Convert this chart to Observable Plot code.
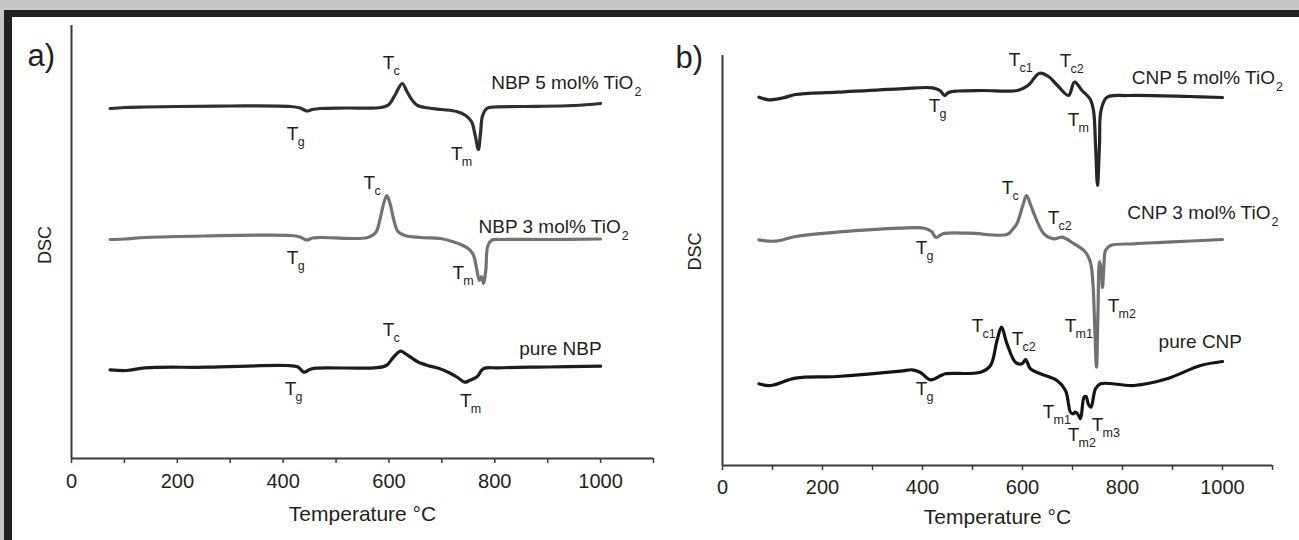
<!DOCTYPE html>
<html>
<head>
<meta charset="utf-8">
<script src="https://cdn.jsdelivr.net/npm/d3@7"></script>
<script src="https://cdn.jsdelivr.net/npm/@observablehq/plot@0.6"></script>
<style>
  html, body { margin: 0; padding: 0; }
  body { width: 1299px; height: 540px; background: #c6c7c9; position: relative; overflow: hidden; font-family: "Liberation Sans", Arial, sans-serif; }
  #frame { position: absolute; left: 4px; top: 10px; width: 1295px; height: 530px; background: #231f20; }
  #paper { position: absolute; left: 12px; top: 17px; width: 1287px; height: 523px; background: #ffffff; }
  .panel { position: absolute; top: 0; }
  #pa { left: 0; }
  #pb { left: 650px; }
</style>
</head>
<body>
<div id="frame"></div>
<div id="paper"></div>
<div id="pa" class="panel"></div>
<div id="pb" class="panel"></div>
<script>
// ---------- data (temperature °C, DSC signal in arbitrary units, curves offset as plotted) ----------
const xTicks = d3.range(0, 1101, 100);
const xLabels = [0, 200, 400, 600, 800, 1000];

// Panel a) NBP glasses
const nbp5 = [[73,34.7],[100,34.8],[140,34.85],[200,34.9],[300,34.95],[414,34.9],[432,34.75],[445,34.45],[455,34.6],[470,34.7],[520,34.75],[585,34.8],[600,35.1],[612,36.1],[625,37.2],[634,36.4],[643,35.6],[654,35.0],[668,34.8],[700,34.6],[728,34.4],[745,34.0],[756,33.4],[763,32.0],[769,30.6],[773,32.2],[777,34.0],[785,34.7],[800,34.85],[850,34.9],[950,35.0],[1000,35.2]];
const nbp3 = [[73,21.6],[100,21.65],[140,21.8],[250,21.95],[414,22.0],[432,21.85],[445,21.55],[455,21.75],[470,21.8],[560,21.8],[575,22.3],[583,23.6],[590,25.2],[596,26.0],[602,25.2],[609,23.6],[617,22.4],[630,22.0],[660,21.8],[697,21.7],[720,21.4],[740,21.0],[752,20.6],[760,20.0],[766,18.6],[771,17.5],[775,17.9],[779,17.2],[783,18.5],[787,21.0],[795,21.55],[810,21.6],[900,21.6],[1000,21.65]];
const nbpPure = [[73,8.57],[104,8.5],[139,8.77],[257,8.83],[406,9.0],[428,8.85],[439,8.33],[450,8.6],[461,8.73],[571,8.77],[595,9.0],[608,9.8],[622,10.43],[632,10.15],[641,9.83],[655,9.35],[673,9.0],[695,8.7],[712,8.33],[730,7.8],[743,7.33],[752,7.5],[767,7.9],[778,8.67],[806,8.77],[900,8.85],[1000,8.93]];

// Panel b) CNP glasses
const cnp5 = [[73,36.73],[92,36.47],[122,36.67],[146,37.0],[229,37.23],[354,37.57],[420,37.67],[435,37.4],[444,36.9],[452,37.2],[470,37.35],[520,37.4],[590,37.4],[611,37.9],[634,39.13],[652,38.8],[670,37.9],[692,36.9],[704,38.23],[719,37.4],[735,36.57],[742,35.4],[746,32.0],[750,27.9],[754,32.0],[757,35.4],[769,36.73],[810,36.9],[934,36.8],[1000,36.7]];
const cnp3 = [[73,22.47],[105,22.33],[146,22.8],[229,23.23],[354,23.63],[404,23.63],[418,23.3],[427,22.7],[441,23.07],[493,23.13],[569,23.0],[580,23.5],[589,24.1],[600,25.8],[608,26.9],[616,26.0],[623,25.07],[643,23.07],[663,22.57],[679,22.73],[703,22.07],[726,21.23],[736,20.2],[741,18.0],[744,14.4],[748,9.73],[751,15.4],[754,20.3],[757,19.6],[760,17.7],[763,20.1],[766,21.4],[776,21.9],[823,22.07],[889,22.23],[1000,22.5]];
const cnpPure = [[73,8.07],[96,7.9],[146,8.63],[229,8.8],[356,9.33],[379,9.47],[395,9.23],[416,8.47],[437,8.9],[446,9.07],[516,9.23],[536,9.9],[549,12.4],[558,13.73],[569,12.07],[586,10.23],[599,10.07],[606,10.5],[616,9.57],[636,9.07],[669,8.4],[686,7.4],[696,5.23],[701,5.07],[706,5.23],[711,5.0],[716,4.57],[723,6.73],[727,6.8],[732,6.0],[737,5.73],[746,7.57],[756,8.07],[823,7.9],[889,8.57],[956,9.9],[1000,10.3]];

// Transition annotations: subscript, temperature, signal
const annA = [["c",599,39.3],["g",418,32.2],["m",728,30.2],["c",563,27.3],["g",418,19.8],["m",731,18.3],["c",599,12.6],["g",414,6.7],["m",745,5.5]];
const annB = [["c1",584,40.5],["c2",686,40.4],["g",424,35.9],["m",702,34.5],["c",570,27.7],["c2",662,24.7],["g",398,21.7],["m2",782,15.9],["m1",696,13.9],["c1",510,13.9],["c2",590,12.6],["g",398,7.6],["m1",652,5.3],["m2",702,3.0],["m3",750,4.0]];

// Series names: text, subscript, temperature at text end, signal
const namesA = [["NBP 5 mol% TiO","2",1062,37.3],["NBP 3 mol% TiO","2",1038,22.9],["pure NBP","",1002,10.7]];
const namesB = [["CNP 5 mol% TiO","2",1105,38.7],["CNP 3 mol% TiO","2",1096,25.2],["pure CNP","",1039,12.3]];

// ---------- drawing ----------
const INK = "#231f20";
const AX = "#3a3a3a";
const FONT = "'Liberation Sans', Arial, Helvetica, sans-serif";

function panel(opts) {
  const ann = opts.ann.map(([s, x, y]) => ({s, x, y}));
  const names = opts.names.map(([t, s, x, y]) => ({t, s, x, y}));
  const lines = opts.series.map(([data, color]) =>
    Plot.line(data, {x: d => d[0], y: d => d[1], stroke: color, strokeWidth: 3.2, curve: "catmull-rom", strokeLinejoin: "round", strokeLinecap: "round"}));
  return Plot.plot({
    width: opts.width,
    height: 540,
    marginLeft: opts.marginLeft,
    marginRight: opts.marginRight,
    marginTop: opts.marginTop,
    marginBottom: opts.marginBottom,
    x: {domain: [0, 1100]},
    y: {domain: opts.yDomain, axis: null},
    style: {background: "transparent", fontFamily: FONT, color: INK, overflow: "visible"},
    marks: [
      Plot.axisX({ticks: xTicks, tickFormat: d => xLabels.includes(d) ? String(d) : "", tickSize: 5, tickPadding: opts.tickPad, fontSize: 20, strokeWidth: 1.5, stroke: AX, fill: INK, label: null}),
      Plot.ruleY([opts.yDomain[0]], {stroke: AX, strokeWidth: 2}),
      Plot.ruleX([0], {stroke: AX, strokeWidth: 2}),
      ...lines,
      Plot.text(ann, {x: "x", y: "y", text: () => "T", fontSize: 19, fill: INK}),
      Plot.text(ann, {x: "x", y: "y", text: "s", fontSize: 12.5, fill: INK, textAnchor: "start", dx: 5, dy: 8}),
      Plot.text(names, {x: "x", y: "y", text: "t", fontSize: 19, fill: INK, textAnchor: "end"}),
      Plot.text(names, {x: "x", y: "y", text: "s", fontSize: 12.5, fill: INK, textAnchor: "start", dx: 1, dy: 9}),
      Plot.text(["DSC"], {frameAnchor: "left", dx: opts.dscDx, dy: opts.dscDy, rotate: -90, fontSize: 18, fill: INK}),
      Plot.text(["Temperature °C"], {frameAnchor: "bottom", dy: opts.titleDy, fontSize: 21, fill: INK}),
      Plot.text([opts.tag], {frameAnchor: "top-left", dx: opts.tagDx, dy: opts.tagDy, fontSize: 31, fill: INK, textAnchor: "start"})
    ]
  });
}

document.getElementById("pa").append(panel({
  width: 660, marginLeft: 71, marginRight: 7, marginTop: 25, marginBottom: 82, yDomain: [-0.3, 43],
  tickPad: 10, titleDy: 62,
  series: [[nbp5, "#2f2f2f"], [nbp3, "#737373"], [nbpPure, "#1c1c1c"]],
  ann: annA, names: namesA, dscDx: -26, dscDy: 22, tag: "a)", tagDx: -44, tagDy: 18
}));

document.getElementById("pb").append(panel({
  width: 649, marginLeft: 72, marginRight: 27, marginTop: 55, marginBottom: 75, yDomain: [-0.1, 40.9],
  tickPad: 9, titleDy: 58,
  series: [[cnp5, "#262626"], [cnp3, "#717171"], [cnpPure, "#141414"]],
  ann: annB, names: namesB, dscDx: -27, dscDy: 10, tag: "b)", tagDx: -47, tagDy: -10
}));
</script>
</body>
</html>
